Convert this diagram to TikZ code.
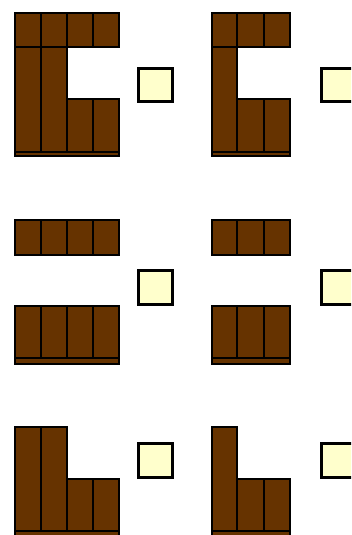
\documentclass[tikz,border=0pt]{standalone}
\usepackage{tikz}
\definecolor{brownblock}{HTML}{663300}
\definecolor{paleyellow}{HTML}{FFFFCC}
\tikzset{
  block/.style={draw=black,fill=brownblock,line width=1.2pt},
  ysq/.style={draw=black,fill=paleyellow,line width=3pt},
}
\begin{document}
\begin{tikzpicture}[x=1pt,y=-1pt]
\useasboundingbox (0,0) rectangle (351,535);
\clip (0,0) rectangle (351,535);
% ---------- top row, left panel ----------
\foreach \a/\b in {15/41,41/67,67/93,93/119} \draw[block] (\a,13) rectangle (\b,47);
\foreach \a/\b in {15/41,41/67} \draw[block] (\a,47) rectangle (\b,152);
\foreach \a/\b in {67/93,93/119} \draw[block] (\a,99) rectangle (\b,152);
\draw[block] (15,152) rectangle (119,156);
\draw[ysq] (138.5,68.5) rectangle (172.5,101.5);
% ---------- top row, right panel ----------
\foreach \a/\b in {212/237,237/264,264/290} \draw[block] (\a,13) rectangle (\b,47);
\draw[block] (212,47) rectangle (237,152);
\foreach \a/\b in {237/264,264/290} \draw[block] (\a,99) rectangle (\b,152);
\draw[block] (212,152) rectangle (290,156);
\draw[ysq] (321.5,68.5) rectangle (355.5,101.5);
% ---------- middle row, left panel ----------
\foreach \a/\b in {15/41,41/67,67/93,93/119} \draw[block] (\a,220) rectangle (\b,255);
\foreach \a/\b in {15/41,41/67,67/93,93/119} \draw[block] (\a,306) rectangle (\b,358);
\draw[block] (15,358) rectangle (119,364);
\draw[ysq] (138.5,270.5) rectangle (172.5,304.5);
% ---------- middle row, right panel ----------
\foreach \a/\b in {212/237,237/264,264/290} \draw[block] (\a,220) rectangle (\b,255);
\foreach \a/\b in {212/237,237/264,264/290} \draw[block] (\a,306) rectangle (\b,358);
\draw[block] (212,358) rectangle (290,364);
\draw[ysq] (321.5,270.5) rectangle (355.5,304.5);
% ---------- bottom row, left panel ----------
\foreach \a/\b in {15/41,41/67} \draw[block] (\a,427) rectangle (\b,531);
\foreach \a/\b in {67/93,93/119} \draw[block] (\a,479) rectangle (\b,531);
\draw[block] (15,531) rectangle (119,538);
\draw[ysq] (138.5,443.5) rectangle (172.5,477.5);
% ---------- bottom row, right panel ----------
\draw[block] (212,427) rectangle (237,531);
\foreach \a/\b in {237/264,264/290} \draw[block] (\a,479) rectangle (\b,531);
\draw[block] (212,531) rectangle (290,538);
\draw[ysq] (321.5,443.5) rectangle (355.5,477.5);
\end{tikzpicture}
\end{document}
